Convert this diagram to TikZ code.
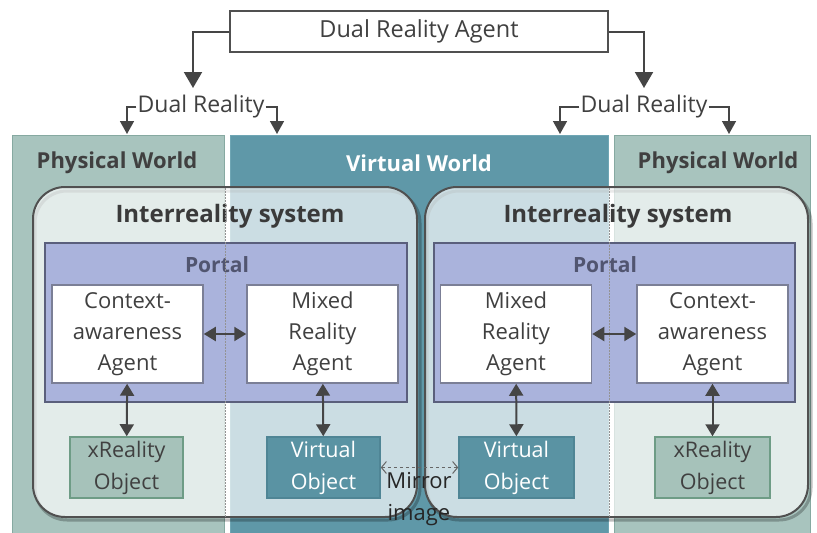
\documentclass[tikz,border=0pt]{standalone}
\usepackage{fontspec}
\setmainfont{Open Sans}
\usetikzlibrary{arrows.meta}
\definecolor{phys}{HTML}{A8C4BE}
\definecolor{physb}{HTML}{86A9A1}
\definecolor{virt}{HTML}{5F98A8}
\definecolor{virtb}{HTML}{6FA6B4}
\definecolor{portalc}{HTML}{AAB3DC}
\definecolor{portalb}{HTML}{5A5F7C}
\definecolor{arr}{HTML}{454545}
\definecolor{txt}{HTML}{404040}
\definecolor{vobj}{HTML}{5A93A3}
\definecolor{vobjb}{HTML}{4F8595}
\definecolor{xobj}{HTML}{A6C2BA}
\definecolor{xobjb}{HTML}{6E9C86}
\definecolor{irb}{HTML}{505050}
\begin{document}
\begin{tikzpicture}[x=1pt,y=-1pt,
  panel/.style={draw=physb, line width=1pt, inner sep=0pt},
  wlabel/.style={font=\bfseries\fontsize{22}{24}\selectfont, text=txt, inner sep=0pt},
  irbox/.style={draw=irb, line width=2pt, rounded corners=32pt, fill=white, fill opacity=0.68, inner sep=0pt},
  irlabel/.style={font=\bfseries\fontsize{24}{26}\selectfont, text=txt!90!black, inner sep=0pt},
  portalbox/.style={draw=portalb, line width=1.5pt, fill=portalc, inner sep=0pt},
  agentbox/.style={draw=portalb!80, line width=1.5pt, fill=white, minimum width=151, minimum height=98, align=center, text=txt, font=\fontsize{22}{31}\selectfont, inner sep=0pt},
  objbox/.style={line width=1.5pt, minimum height=61, align=center, font=\fontsize{21.5}{32}\selectfont, inner sep=0pt},
  arrowc/.style={draw=arr, line width=2pt, -{Triangle[width=18pt,length=16pt]}},
  smallarrow/.style={draw=arr, line width=1.5pt, -{Triangle[width=14pt,length=13pt]}},
  darrow/.style={draw=arr, line width=2pt, {Triangle[width=14pt,length=12pt]}-{Triangle[width=14pt,length=12pt]}},
  divider/.style={draw=gray!85, line width=1pt, dash pattern=on 1.5pt off 1.5pt}
]
\useasboundingbox (0,0) rectangle (817,533);

% panels
\node[panel, fill=phys, minimum width=212, minimum height=400] (pw1) at (118,335) {};
\node[panel, fill=virt, draw=virtb, minimum width=378, minimum height=400] (vw) at (419,335) {};
\node[panel, fill=phys, minimum width=196, minimum height=400] (pw2) at (712,335) {};
\node[wlabel] (pw1l) at (117,163) {Physical World};
\node[wlabel, text=white] (vwl) at (419,163) {Virtual World};
\node[wlabel] (pw2l) at (718,163) {Physical World};

% top agent
\node[draw=irb, line width=1.5pt, fill=white, minimum width=378, minimum height=41, inner sep=0pt,
      text=txt, font=\fontsize{23.5}{24}\selectfont] (dra) at (419,31.5) {Dual Reality Agent};
\node[text=txt, font=\fontsize{23}{24}\selectfont, inner sep=1pt] (dr1) at (201,107) {Dual Reality};
\node[text=txt, font=\fontsize{23}{24}\selectfont, inner sep=1pt] (dr2) at (644,107) {Dual Reality};
\coordinate (t1) at (193,88);
\coordinate (t2) at (644,88);
\coordinate (p1) at (127,134);
\coordinate (p2) at (277,134);
\coordinate (p3) at (560,134);
\coordinate (p4) at (729,134);
\draw[arrowc] (dra.west) -| (t1);
\draw[arrowc] (dra.east) -| (t2);
\draw[smallarrow] (dr1.west) -| (p1);
\draw[smallarrow] (dr1.east) -| (p2);
\draw[smallarrow] (dr2.west) -| (p3);
\draw[smallarrow] (dr2.east) -| (p4);

% interreality shadows
\draw[black, opacity=0.25, line width=3pt, rounded corners=32pt] (35,191) rectangle (420,520);
\draw[black, opacity=0.25, line width=3pt, rounded corners=32pt] (427,191) rectangle (811,520);
% interreality boxes
\node[irbox, minimum width=384, minimum height=330] (ir1) at (225,352) {};
\node[irbox, minimum width=383, minimum height=330] (ir2) at (616.5,352) {};
\node[irlabel] (ir1l) at (230,216) {Interreality system};
\node[irlabel] (ir2l) at (618,216) {Interreality system};

% portals
\node[portalbox, minimum width=362, minimum height=159] (po1) at (226,322.5) {};
\node[portalbox, minimum width=361, minimum height=159] (po2) at (614.5,322.5) {};
\node[font=\bfseries\fontsize{21}{24}\selectfont, text=portalb!90!black, inner sep=0pt] (po1l) at (217,265) {Portal};
\node[font=\bfseries\fontsize{21}{24}\selectfont, text=portalb!90!black, inner sep=0pt] (po2l) at (605,265) {Portal};

% dividers
\coordinate (d1a) at (225,188);
\coordinate (d1b) at (225,517);
\coordinate (d2a) at (609,188);
\coordinate (d2b) at (609,517);
\draw[divider] (d1a) -- (d1b);
\draw[divider] (d2a) -- (d2b);

% agents
\node[agentbox] (ca1) at (127.5,334) {Context-\\awareness\\Agent};
\node[agentbox] (mr1) at (322.5,334) {Mixed\\Reality\\Agent};
\node[agentbox] (mr2) at (516,334) {Mixed\\Reality\\Agent};
\node[agentbox] (ca2) at (712.5,334) {Context-\\awareness\\Agent};

% objects
\node[objbox, draw=xobjb, fill=xobj, text=txt, minimum width=113] (xr1) at (126.5,467.5) {xReality\\Object};
\node[objbox, draw=vobjb, fill=vobj, text=white, minimum width=113] (vo1) at (323.5,467.5) {Virtual\\Object};
\node[objbox, draw=vobjb, fill=vobj, text=white, minimum width=115] (vo2) at (516.5,467.5) {Virtual\\Object};
\node[objbox, draw=xobjb, fill=xobj, text=txt, minimum width=115] (xr2) at (712.5,467.5) {xReality\\Object};

% arrows
\draw[darrow] (ca1) -- (mr1);
\draw[darrow] (mr2) -- (ca2);
\draw[darrow] (ca1) -- (xr1);
\draw[darrow] (mr1) -- (vo1);
\draw[darrow] (mr2) -- (vo2);
\draw[darrow] (ca2) -- (xr2);

% mirror image
\draw[draw=gray!80!black, line width=1pt, dashed, {Straight Barb[length=5pt,width=12pt]}-{Straight Barb[length=5pt,width=12pt]}] (vo1) -- (vo2);
\node[align=center, text=black!85, font=\fontsize{22}{32}\selectfont, inner sep=0pt] (mir) at (419,499) {Mirror\\image};
\end{tikzpicture}
\end{document}
